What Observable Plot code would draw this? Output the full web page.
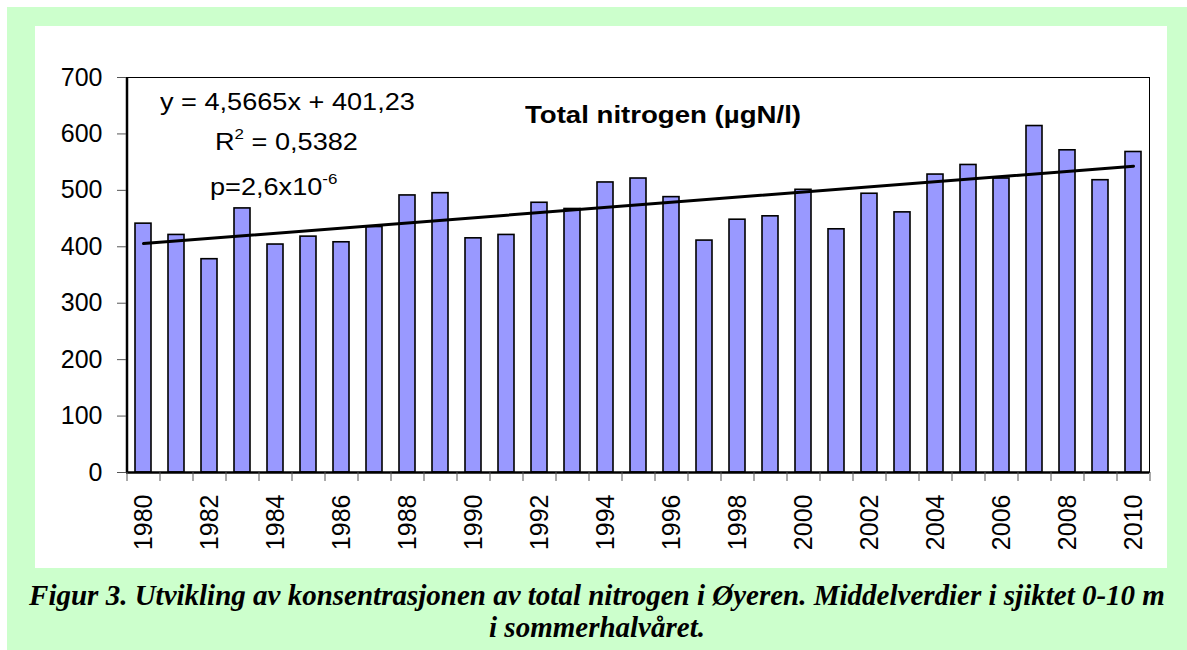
<!DOCTYPE html>
<html><head><meta charset="utf-8">
<script src="https://cdn.jsdelivr.net/npm/d3@7"></script>
<script src="https://cdn.jsdelivr.net/npm/@observablehq/plot@0.6"></script>
<style>
body{margin:0;background:#fff;font-family:"Liberation Sans",Arial,sans-serif;}
#green{position:absolute;left:7px;top:7px;width:1180px;height:643px;background:#ccffcc;}
#panel{position:absolute;left:28px;top:19px;width:1132px;height:542px;background:#fff;}
#panel svg{position:absolute;left:0;top:0;}
.ann{position:absolute;font-size:24px;line-height:30px;white-space:nowrap;color:#000;transform-origin:0 50%;}
.ann sup{font-size:15px;vertical-align:0;position:relative;top:-11px;}
#eq,#r2,#pv{transform:scaleX(1.13);}
#title{font-weight:bold;font-size:24px;transform:scaleX(1.15);}
#caption{position:absolute;left:0;top:572px;width:1180px;text-align:center;font-family:"Liberation Serif","Times New Roman",serif;font-weight:bold;font-style:italic;font-size:29px;line-height:32px;color:#000;}
</style>
</head><body>
<div id="green">
  <div id="panel">
    <div class="ann" id="eq" style="left:125px;top:61px;">y = 4,5665x + 401,23</div>
    <div class="ann" id="r2" style="left:180px;top:101px;">R<sup>2</sup> = 0,5382</div>
    <div class="ann" id="pv" style="left:175px;top:146px;">p=2,6x10<sup>-6</sup></div>
    <div class="ann" id="title" style="left:490px;top:74px;">Total nitrogen (µgN/l)</div>
  </div>
  <div id="caption">Figur 3. Utvikling av konsentrasjonen av total nitrogen i Øyeren. Middelverdier i sjiktet 0-10 m<br>i sommerhalvåret.</div>
</div>
<script>
const years = [1980,1981,1982,1983,1984,1985,1986,1987,1988,1989,1990,1991,1992,1993,1994,1995,1996,1997,1998,1999,2000,2001,2002,2003,2004,2005,2006,2007,2008,2009,2010];
const values = [441,421,378,468,404,418,408,435,491,495,415,421,478,467,514,521,488,411,448,454,501,431,494,461,528,545,521,614,571,518,568];
const labelYears = [1980,1982,1984,1986,1988,1990,1992,1994,1996,1998,2000,2002,2004,2006,2008,2010];
const yTicks = [0,100,200,300,400,500,600,700];
// trend line as printed on the chart: y = 4,5665x + 401,23 (x = 1 for 1980)
const slope = 4.5665, intercept = 401.23;
const trendYears = [1980, 2010];
const trendX = [1, 31];

const data = years.map((year, i) => ({year, value: values[i]}));
const trend = trendYears.map((year, i) => ({year, value: slope * trendX[i] + intercept}));

const W = 1132, H = 542, mL = 91, mR = 18, mT = 51, mB = 96;
const step = (W - mL - mR) / years.length;

const chart = Plot.plot({
  width: W, height: H,
  marginLeft: mL, marginRight: mR, marginTop: mT, marginBottom: mB,
  style: {fontFamily: "Liberation Sans, Arial, sans-serif", fontSize: "25px", color: "black", background: "transparent", overflow: "visible"},
  x: {type: "band", domain: years, paddingInner: 0.52, paddingOuter: 0.26, axis: null},
  y: {domain: [0, 700], axis: null},
  marks: [
    Plot.barY(data, {x: "year", y: "value", fill: "#9999ff", stroke: "black", strokeWidth: 1.6}),
    Plot.lineY(trend, {x: "year", y: "value", stroke: "black", strokeWidth: 3}),
    Plot.frame({stroke: "black", strokeWidth: 1}),
    Plot.ruleY([0], {stroke: "black", strokeWidth: 2.5}),
    Plot.ruleX([years[0]], {stroke: "black", strokeWidth: 2.5, dx: -step / 2}),
    Plot.axisY({ticks: yTicks, tickSize: 9, tickPadding: 15, fontSize: 25, stroke: "#555", label: null}),
    Plot.axisX({ticks: years, tickSize: 9, tickFormat: () => "", dx: -step / 2, stroke: "#555", label: null}),
    Plot.axisX({ticks: [years[years.length - 1]], tickSize: 9, tickFormat: () => "", dx: step / 2, stroke: "#555", label: null}),
    Plot.axisX({ticks: labelYears, tickSize: 0, tickPadding: 22, tickRotate: -90, tickFormat: d => String(d), fontSize: 25, label: null})
  ]
});
document.getElementById("panel").prepend(chart);
</script>
</body></html>
